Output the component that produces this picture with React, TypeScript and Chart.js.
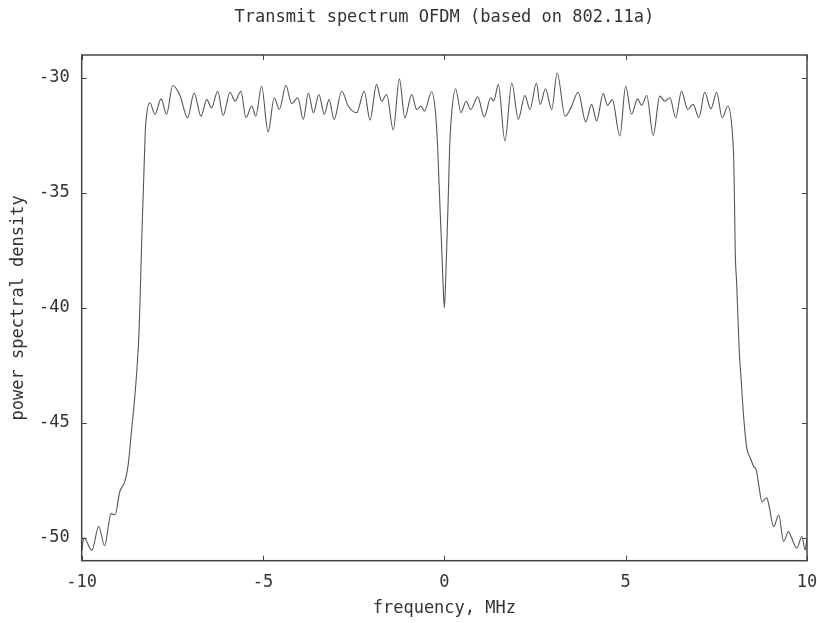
import React, { useEffect, useRef } from "react";
import { Chart, registerables } from "chart.js";

Chart.register(...registerables);

const titleText = "Transmit spectrum OFDM (based on 802.11a)";
const xTitle = "frequency, MHz";
const yTitle = "power spectral density";

const xTicks = [-10, -5, 0, 5, 10];
const yTicks = [-50, -45, -40, -35, -30];

// frequency (MHz)
const freq = [
  -10.0, -9.94, -9.72, -9.53, -9.37, -9.19, -9.08, -8.95, -8.81, -8.72,
  -8.63, -8.54, -8.47, -8.42, -8.39, -8.365, -8.34, -8.31, -8.28, -8.25,
  -8.21, -8.12, -7.98, -7.81, -7.66, -7.49, -7.29, -7.08, -6.9, -6.71,
  -6.55, -6.42, -6.25, -6.1, -5.91, -5.77, -5.61, -5.47, -5.31, -5.2,
  -5.04, -4.86, -4.69, -4.55, -4.37, -4.21, -4.04, -3.89, -3.75, -3.61,
  -3.46, -3.31, -3.18, -3.04, -2.83, -2.65, -2.42, -2.21, -2.05, -1.87,
  -1.73, -1.59, -1.41, -1.24, -1.09, -0.9, -0.76, -0.645, -0.55, -0.35,
  -0.24, -0.185, -0.149, -0.113, -0.074, -0.039, 0.0, 0.036, 0.072, 0.108,
  0.146, 0.2, 0.31, 0.46, 0.6, 0.73, 0.92, 1.1, 1.28, 1.36,
  1.49, 1.67, 1.86, 2.04, 2.22, 2.36, 2.54, 2.64, 2.79, 2.96,
  3.11, 3.33, 3.49, 3.69, 3.9, 4.06, 4.2, 4.38, 4.5, 4.63,
  4.84, 5.0, 5.16, 5.33, 5.44, 5.58, 5.76, 5.94, 6.08, 6.22,
  6.38, 6.54, 6.71, 6.86, 7.02, 7.18, 7.35, 7.51, 7.66, 7.82,
  7.93, 7.98, 8.0, 8.02, 8.06, 8.095, 8.13, 8.19, 8.25, 8.34,
  8.43, 8.53, 8.6, 8.66, 8.76, 8.89, 8.95, 9.08, 9.22, 9.355,
  9.49, 9.56, 9.72, 9.86, 9.95, 10.0,
];

// power spectral density
const psd = [
  -50.6, -50.0, -50.55, -49.5, -50.35, -48.95, -49.0, -48.0, -47.55, -46.85,
  -45.4, -43.95, -42.5, -41.1, -39.65, -38.2, -36.8, -35.35, -33.9, -32.45,
  -31.6, -31.08, -31.58, -30.91, -31.58, -30.33, -30.76, -31.73, -30.65, -31.66,
  -30.94, -31.3, -30.58, -31.63, -30.62, -31.01, -30.58, -31.73, -31.22, -31.66,
  -30.36, -32.35, -30.86, -31.37, -30.33, -31.11, -30.86, -31.8, -30.65, -31.51,
  -30.72, -31.58, -30.94, -31.8, -30.58, -31.22, -31.51, -30.58, -31.83, -30.29,
  -31.01, -30.72, -32.26, -30.04, -31.73, -30.72, -31.37, -31.22, -31.44, -30.6,
  -31.58, -33.0, -34.46, -35.9, -37.35, -38.8, -40.0, -38.8, -37.06, -35.19,
  -33.02, -31.58, -30.47, -31.51, -31.01, -31.37, -30.82, -31.69, -30.86, -31.0,
  -30.29, -32.74, -30.22, -31.8, -30.76, -31.37, -30.22, -31.15, -30.47, -31.37,
  -29.78, -31.66, -31.3, -30.62, -31.91, -31.15, -31.87, -30.68, -31.19, -30.94,
  -32.52, -30.36, -31.58, -30.91, -31.19, -30.76, -32.49, -30.79, -31.01, -30.86,
  -31.73, -30.58, -31.37, -31.15, -31.73, -30.62, -31.34, -30.62, -31.73, -31.22,
  -32.16, -33.6, -35.33, -37.49, -38.93, -40.37, -41.81, -43.25, -44.69, -46.1,
  -46.5, -46.9, -47.05, -47.6, -48.44, -48.26, -48.58, -49.52, -49.01, -50.16,
  -49.73, -49.95, -50.45, -49.95, -50.53, -50.0,
];

const FONT = "'DejaVu Sans Mono', 'Liberation Mono', monospace";
const TEXT = "#333";

const framePlugin = {
  id: "gnuFrame",
  afterDatasetsDraw(chart: any) {
    const { ctx, chartArea, scales } = chart;
    const { left, right, top, bottom } = chartArea;
    const x = scales.x;
    const y = scales.y;
    const tl = 5;
    ctx.save();
    ctx.strokeStyle = "#444";
    ctx.lineWidth = 1;
    ctx.beginPath();
    xTicks.forEach((v) => {
      const px = Math.round(x.getPixelForValue(v)) + 0.5;
      ctx.moveTo(px, bottom);
      ctx.lineTo(px, bottom - tl);
      ctx.moveTo(px, top);
      ctx.lineTo(px, top + tl);
    });
    yTicks.forEach((v) => {
      const py = Math.round(y.getPixelForValue(v)) + 0.5;
      ctx.moveTo(left, py);
      ctx.lineTo(left + tl, py);
      ctx.moveTo(right, py);
      ctx.lineTo(right - tl, py);
    });
    ctx.stroke();
    ctx.lineWidth = 1.5;
    ctx.strokeRect(left, top, right - left, bottom - top);
    ctx.restore();
  },
};

export default function App() {
  const ref = useRef<HTMLCanvasElement | null>(null);

  useEffect(() => {
    if (!ref.current) return;
    Chart.defaults.font.family = FONT;
    const chart = new Chart(ref.current, {
      type: "line",
      data: {
        datasets: [
          {
            data: freq.map((f, i) => ({ x: f, y: psd[i] })),
            borderColor: "#555",
            borderWidth: 1.1,
            pointRadius: 0,
            fill: false,
            cubicInterpolationMode: "monotone",
          },
        ],
      },
      options: {
        animation: false,
        responsive: false,
        devicePixelRatio: 1,
        layout: { padding: { left: 0, right: 0, top: 0, bottom: 0 } },
        plugins: {
          legend: { display: false },
          tooltip: { enabled: false },
          title: {
            display: true,
            fullSize: false,
            text: titleText,
            color: TEXT,
            font: { family: FONT, size: 17, weight: "normal" },
            padding: { top: 7.8, bottom: 26.8 },
          },
        },
        scales: {
          x: {
            type: "linear",
            min: -10,
            max: 10,
            grid: { display: false, drawTicks: false },
            border: { display: false },
            afterBuildTicks: (scale: any) => {
              scale.ticks = xTicks.map((v) => ({ value: v }));
            },
            afterFit: (scale: any) => {
              scale.height = 62.3;
              scale.paddingLeft = 0;
              scale.paddingRight = 10;
            },
            ticks: {
              color: TEXT,
              font: { family: FONT, size: 17 },
              padding: 12,
              maxRotation: 0,
              callback: (v: any) => String(v),
            },
            title: {
              display: true,
              text: xTitle,
              color: TEXT,
              font: { family: FONT, size: 17 },
              padding: { top: 0, bottom: 4.4 },
            },
          },
          y: {
            type: "linear",
            min: -51,
            max: -29,
            grid: { display: false, drawTicks: false },
            border: { display: false },
            afterBuildTicks: (scale: any) => {
              scale.ticks = yTicks.map((v) => ({ value: v }));
            },
            afterFit: (scale: any) => {
              scale.width = 81.7;
            },
            ticks: {
              color: TEXT,
              font: { family: FONT, size: 17 },
              padding: 12,
              callback: (v: any) => String(v),
            },
            title: {
              display: true,
              text: yTitle,
              color: TEXT,
              font: { family: FONT, size: 17 },
              padding: { top: 8.4, bottom: 0 },
            },
          },
        },
      },
      plugins: [framePlugin],
    } as any);
    return () => chart.destroy();
  }, []);

  return (
    <div style={{ position: "fixed", left: 0, top: 0, width: 817, height: 623, background: "#fff" }}>
      <canvas ref={ref} width={817} height={623} style={{ width: 817, height: 623, display: "block" }} />
    </div>
  );
}
